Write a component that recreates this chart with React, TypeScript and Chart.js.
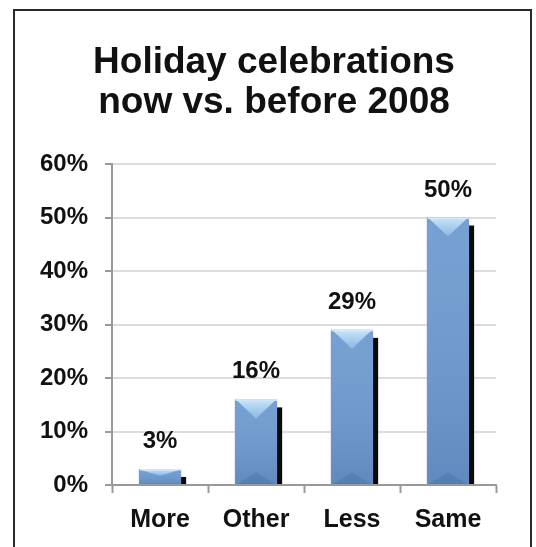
import React, { useEffect, useRef } from "react";
import { Chart, registerables } from "chart.js";

Chart.register(...registerables);

const TITLE_LINES = ["Holiday celebrations", "now vs. before 2008"];
const CATEGORIES = ["More", "Other", "Less", "Same"];
const VALUES = [3, 16, 29, 50];
const Y_MIN = 0;
const Y_MAX = 60;
const Y_STEP = 10;

const FONT = "'Liberation Sans', Arial, Helvetica, sans-serif";

const titleDraw = {
  id: "titleDraw",
  afterDraw(chart: any) {
    const ctx = chart.ctx;
    ctx.save();
    ctx.fillStyle = "#111";
    ctx.font = `bold 37px ${FONT}`;
    ctx.textAlign = "center";
    ctx.textBaseline = "alphabetic";
    TITLE_LINES.forEach((line, i) => {
      ctx.fillText(line, 274, 73 + i * 40);
    });
    ctx.restore();
  },
};

const barDecor = {
  id: "barDecor",
  beforeDatasetsDraw(chart: any) {
    const ctx = chart.ctx;
    const meta = chart.getDatasetMeta(0);
    ctx.save();
    meta.data.forEach((bar: any) => {
      const w = bar.width;
      const left = bar.x - w / 2;
      const top = bar.y;
      const base = bar.base;
      ctx.fillStyle = "#0a0a0a";
      const sTop = Math.min(top + 8, base - 4);
      ctx.fillRect(left + 5, sTop, w, base - sTop);
    });
    ctx.restore();
  },
  afterDatasetsDraw(chart: any) {
    const ctx = chart.ctx;
    const meta = chart.getDatasetMeta(0);
    ctx.save();
    meta.data.forEach((bar: any, i: number) => {
      const w = bar.width;
      const left = bar.x - w / 2;
      const right = bar.x + w / 2;
      const top = bar.y;
      const base = bar.base;
      const h = base - top;
      // vertical shading
      const vg = ctx.createLinearGradient(0, top, 0, base);
      vg.addColorStop(0, "rgba(255,255,255,0.06)");
      vg.addColorStop(1, "rgba(10,30,80,0.14)");
      ctx.fillStyle = vg;
      ctx.fillRect(left, top, w, h);
      // top chevron highlight
      const ch = Math.min(h * 0.45, w * 0.45);
      ctx.beginPath();
      ctx.moveTo(left + 2, top + 1);
      ctx.lineTo(right - 2, top + 1);
      ctx.lineTo(bar.x, top + ch);
      ctx.closePath();
      const cg = ctx.createLinearGradient(0, top, 0, top + ch);
      cg.addColorStop(0, "rgba(205,235,252,0.95)");
      cg.addColorStop(1, "rgba(165,205,242,0.55)");
      ctx.fillStyle = cg;
      ctx.fill();
      // bottom subtle inverted chevron
      if (h > 30) {
        ctx.beginPath();
        ctx.moveTo(left + 2, base);
        ctx.lineTo(right - 2, base);
        ctx.lineTo(bar.x, base - ch * 0.6);
        ctx.closePath();
        ctx.fillStyle = "rgba(40,80,140,0.2)";
        ctx.fill();
      }
      // edges
      ctx.fillStyle = "rgba(225,242,255,0.85)";
      ctx.fillRect(left, top, w, 1.5);
      ctx.fillStyle = "rgba(120,150,190,0.6)";
      ctx.fillRect(left, top, 1, h);
      // label
      ctx.fillStyle = "#111";
      ctx.font = `bold 24px ${FONT}`;
      ctx.textAlign = "center";
      ctx.textBaseline = "alphabetic";
      ctx.fillText(`${VALUES[i]}%`, bar.x, top - 21);
    });
    ctx.restore();
  },
};

export default function App() {
  const ref = useRef<HTMLCanvasElement | null>(null);

  useEffect(() => {
    const canvas = ref.current;
    if (!canvas) return;
    const chart = new Chart(canvas, {
      type: "bar",
      data: {
        labels: CATEGORIES,
        datasets: [
          {
            data: VALUES,
            backgroundColor: (c: any) => {
              const el = c.element;
              const ctx = c.chart.ctx;
              if (!el || el.width == null) return "#6f9bd0";
              const l = el.x - el.width / 2;
              const g = ctx.createLinearGradient(l, 0, l + el.width, 0);
              g.addColorStop(0, "#5583c0");
              g.addColorStop(0.1, "#8bb4e3");
              g.addColorStop(0.47, "#80abdf");
              g.addColorStop(0.53, "#6897d1");
              g.addColorStop(0.88, "#5686c3");
              g.addColorStop(1, "#3b68a6");
              return g;
            },
            borderWidth: 0,
            barPercentage: 0.88,
            categoryPercentage: 0.5,
          },
        ],
      },
      options: {
        responsive: false,
        animation: false,
        devicePixelRatio: 1,
        layout: { padding: { left: 23, right: 40, top: 164, bottom: 0 } },
        plugins: {
          legend: { display: false },
          tooltip: { enabled: false },
          title: { display: false },
        },
        scales: {
          x: {
            grid: {
              display: true,
              drawOnChartArea: false,
              drawTicks: true,
              tickLength: 8,
              tickColor: "#999",
              tickWidth: 2,
              offset: true,
            },
            border: { display: true, color: "#999", width: 2 },
            ticks: {
              color: "#111",
              font: { family: FONT, size: 25, weight: "bold" },
              padding: 12,
            },
          },
          y: {
            min: Y_MIN,
            max: Y_MAX,
            grid: {
              color: "#dcdcdc",
              lineWidth: 2,
              tickLength: 7,
              tickColor: "#999",
              tickWidth: 2,
            },
            border: { display: true, color: "#999", width: 2 },
            ticks: {
              stepSize: Y_STEP,
              color: "#111",
              font: { family: FONT, size: 24, weight: "bold" },
              padding: 17,
              callback: (v: any) => `${v}%`,
            },
          },
        },
      },
      plugins: [barDecor, titleDraw],
    });
    return () => chart.destroy();
  }, []);

  return (
    <div style={{ position: "absolute", left: 0, top: 0, width: 536, height: 547, overflow: "hidden", background: "#fff" }}>
      <div
        style={{
          position: "absolute",
          left: 13,
          top: 9,
          width: 519,
          height: 600,
          boxSizing: "border-box",
          border: "2px solid #2a2a2a",
          pointerEvents: "none",
        }}
      />
      <canvas ref={ref} width={536} height={547} style={{ position: "absolute", left: 0, top: 0, width: 536, height: 547 }} />
    </div>
  );
}
